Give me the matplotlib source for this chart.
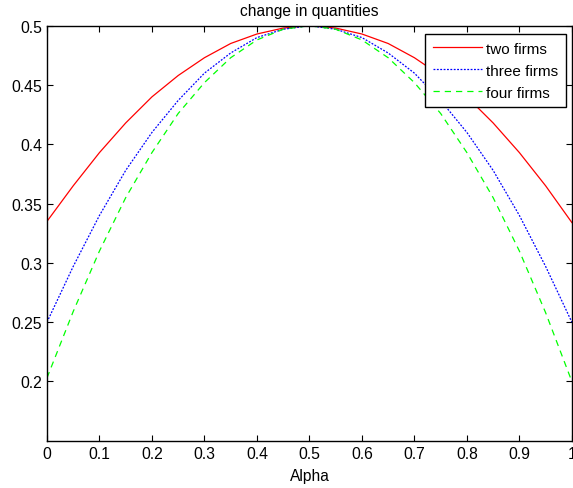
import matplotlib.pyplot as plt

plt.rcParams['font.family'] = ['Liberation Sans', 'DejaVu Sans']

# values, alpha in steps of 0.05
alpha = [0.00, 0.05, 0.10, 0.15, 0.20, 0.25, 0.30, 0.35, 0.40, 0.45, 0.50,
         0.55, 0.60, 0.65, 0.70, 0.75, 0.80, 0.85, 0.90, 0.95, 1.00]
two_firms = [0.335, 0.365, 0.393, 0.418, 0.440, 0.458, 0.473, 0.485, 0.493, 0.498, 0.500,
             0.498, 0.493, 0.485, 0.473, 0.458, 0.440, 0.418, 0.393, 0.365, 0.334]
three_firms = [0.250, 0.297, 0.340, 0.378, 0.410, 0.437, 0.460, 0.477, 0.490, 0.497, 0.500,
               0.497, 0.490, 0.477, 0.460, 0.437, 0.410, 0.378, 0.340, 0.297, 0.250]
four_firms = [0.203, 0.259, 0.310, 0.355, 0.393, 0.426, 0.452, 0.473, 0.488, 0.497, 0.500,
              0.497, 0.488, 0.473, 0.452, 0.426, 0.393, 0.355, 0.310, 0.258, 0.200]

fig = plt.figure(figsize=(5.73, 4.89), dpi=100)
ax = fig.add_axes([0.082, 0.0967, 0.916, 0.8487])

ax.plot(alpha, two_firms, color=(1, 0, 0), lw=0.9, label='two firms')
ax.plot(alpha, three_firms, color=(0, 0, 1), lw=0.9, dashes=(1.5, 1.2), label='three firms')
ax.plot(alpha, four_firms, color=(0, 1, 0), lw=0.9, dashes=(5, 4), label='four firms')

ax.set_xlim(0, 1)
ax.set_ylim(0.15, 0.5)
ax.set_xticks([0, 0.1, 0.2, 0.3, 0.4, 0.5, 0.6, 0.7, 0.8, 0.9, 1])
ax.set_xticklabels(['0', '0.1', '0.2', '0.3', '0.4', '0.5', '0.6', '0.7', '0.8', '0.9', '1'])
ax.set_yticks([0.2, 0.25, 0.3, 0.35, 0.4, 0.45, 0.5])
ax.set_yticklabels(['0.2', '0.25', '0.3', '0.35', '0.4', '0.45', '0.5'])
ax.tick_params(direction='in', top=True, right=True, length=4, width=0.8,
               labelsize=11.3, pad=3.5)
for s in ax.spines.values():
    s.set_linewidth(1.0)

ax.set_title('change in quantities', fontsize=11.2, pad=7.5)
ax.set_xlabel('Alpha', fontsize=11.2, labelpad=5)

leg = ax.legend(loc='upper right', bbox_to_anchor=(0.9886, 0.980), fontsize=11,
                handlelength=3.2, handletextpad=0.3, borderpad=0.5,
                labelspacing=0.52, fancybox=False, framealpha=1, borderaxespad=0)
leg.get_frame().set_edgecolor('black')
leg.get_frame().set_linewidth(1.0)

fig.savefig('out.png', dpi=100)
